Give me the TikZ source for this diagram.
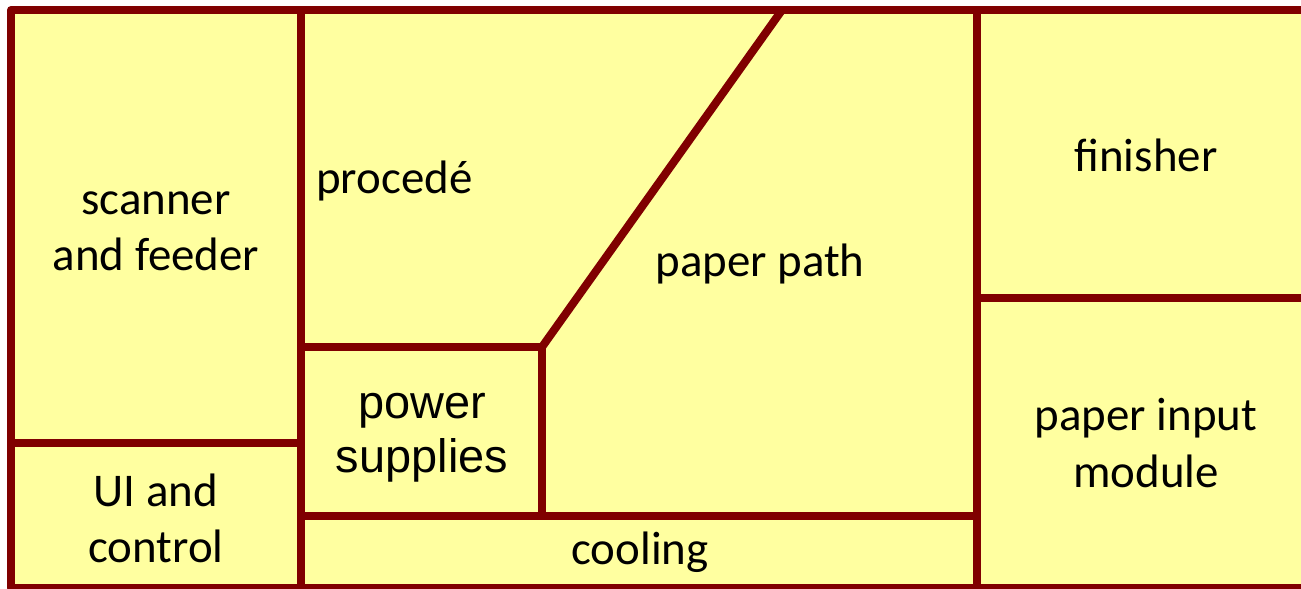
\documentclass[tikz,border=0pt]{standalone}
\usepackage{fontspec}
\setmainfont{Carlito}
\newfontfamily\arialfont{Liberation Sans}
\usetikzlibrary{positioning}

\begin{document}
\begin{tikzpicture}[x=0.02cm,y=-0.02cm]
  \definecolor{BCOL}{RGB}{128,0,0}
  \definecolor{FCOL}{RGB}{255,255,160}
  \tikzstyle{wall} = [draw=BCOL, line width=4.6pt, line join=round]
  \tikzstyle{lbl} = [align=center, inner sep=0pt, font=\fontsize{26.7}{32}\selectfont]
  \useasboundingbox (0,0) rectangle (1301,588);

  % outer frame
  \filldraw[wall, fill=FCOL] (11,10) rectangle (1320,588);

  % walls between the modules
  \coordinate (A) at (301,10);
  \coordinate (B) at (301,588);
  \coordinate (C) at (977,10);
  \coordinate (D) at (977,588);
  \coordinate (E) at (542,347);
  \coordinate (F) at (782,10);
  \draw[wall] (A) -- (B);
  \draw[wall] (C) -- (D);
  \draw[wall] (11,443) -- (301,443);
  \draw[wall] (301,347) -- (E) -- (542,516);
  \draw[wall] (E) -- (F);
  \draw[wall] (301,516) -- (977,516);
  \draw[wall] (977,298) -- (1320,298);

  \node[lbl] (scan) at (156,231) {scanner\\and feeder};
  \node[lbl] (ui) at (156,518) {UI and\\control};
  \node[lbl,anchor=west] (proc) at (316,181) {procedé};
  \node[lbl,font=\arialfont\fontsize{26.7}{31}\selectfont] (pwr) at (422,438) {power\\supplies};
  \node[lbl] (path) at (760,264) {paper path};
  \node[lbl] (cool) at (640,552) {cooling};
  \node[lbl] (fin) at (1146,155) {finisher};
  \node[lbl] (pim) at (1146,443) {paper input\\module};
\end{tikzpicture}
\end{document}
